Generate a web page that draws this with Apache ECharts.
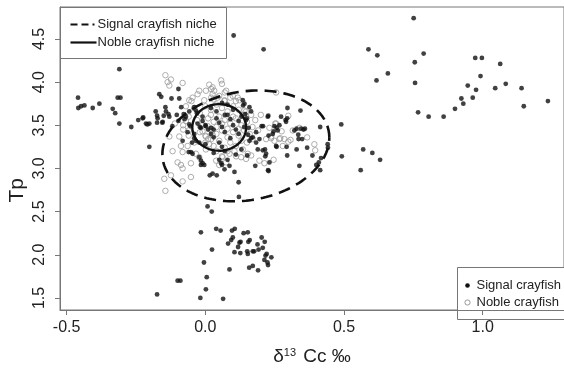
<!DOCTYPE html>
<html><head><meta charset="utf-8">
<script src="https://cdn.jsdelivr.net/npm/echarts@6/dist/echarts.min.js"></script>
<style>html,body{margin:0;padding:0;background:#fff}#c{width:564px;height:371px}</style>
</head><body><div id="c"></div>
<script>
// ---- data ----
const xTicks = [-0.5, 0.0, 0.5, 1.0];
const yTicks = [1.5, 2.0, 2.5, 3.0, 3.5, 4.0, 4.5];
const legendNiche = ['Signal crayfish niche', 'Noble crayfish niche'];
const legendPoints = ['Signal crayfish', 'Noble crayfish'];

const signalPoints = [
 [0.751,4.74],[0.588,4.38],[0.620,4.31],[0.787,4.33],[0.755,4.23],[0.658,4.10],[0.617,4.02],[0.756,3.99],[0.973,4.28],[0.997,4.28],[1.063,4.21],[0.992,4.07],[0.946,3.96],[0.976,3.91],[1.083,3.98],[1.045,3.93],[1.140,3.93],[0.923,3.81],[0.930,3.75],[0.964,3.82],[0.900,3.69],[0.859,3.60],[0.805,3.60],[0.767,3.65],[1.148,3.72],[1.235,3.78],[0.490,3.51],[0.569,3.22],[0.602,3.18],[0.630,3.10],[0.492,3.14],[0.560,2.98],[0.102,4.54],[0.210,4.38],
 [-0.310,4.15],[-0.459,3.82],[-0.458,3.70],[-0.448,3.72],[-0.436,3.73],[-0.406,3.70],[-0.382,3.75],[-0.316,3.82],[-0.306,3.82],[-0.334,3.69],[-0.325,3.64],[-0.310,3.52],[-0.267,3.48],[-0.242,3.56],[-0.224,3.59],[-0.209,3.51],[-0.179,3.66],[-0.174,3.61],[-0.174,3.53],[-0.166,3.86],[-0.202,3.25],
 [-0.097,3.92],[-0.159,3.83],[-0.122,3.81],[-0.144,3.71],[-0.142,3.66],[-0.133,3.63],[-0.130,3.60],[-0.150,3.61],[-0.155,3.53],[-0.094,3.81],[-0.087,3.71],[-0.078,3.63],[-0.103,3.62],[-0.097,3.55],[-0.075,3.57],[-0.119,3.49],[-0.064,3.42],[-0.054,3.49],[-0.048,3.30],[-0.060,3.19],[-0.022,3.13],[-0.016,3.04],[0.016,2.92],[0.041,2.92],[0.120,2.84],[-0.226,3.58],[-0.202,3.52],[-0.172,3.58],[-0.154,3.54],[-0.058,3.66],[-0.040,3.71],[-0.034,3.67],[-0.070,3.60],[-0.214,3.52],
 [0.151,3.15],[0.183,3.30],[0.195,3.34],[0.215,3.22],[0.226,2.98],[0.231,3.07],[0.154,3.39],[0.171,3.36],[0.136,3.73],[0.144,3.63],[0.227,3.61],[0.208,3.49],[0.296,3.70],[0.343,3.67],[0.295,3.58],[0.289,3.56],[0.257,3.47],[0.246,3.43],[0.243,3.40],[0.321,3.44],[0.329,3.46],[0.345,3.46],[0.354,3.45],[0.359,3.46],[0.335,3.39],[0.336,3.34],[0.349,3.34],[0.414,3.48],[0.257,3.25],[0.293,3.25],[0.329,3.22],[0.367,3.24],[0.441,3.28],[0.442,3.24],[0.295,3.15],[0.386,3.15],[0.417,3.12],[0.409,3.07],[0.400,3.04],[0.339,3.03],[0.414,2.98],
 [0.203,3.49],[0.261,3.44],[0.267,3.50],[0.228,3.38],[0.183,3.42],[0.165,3.35],[0.255,3.26],[0.189,3.22],[0.207,3.21],[0.219,3.17],[0.216,3.14],[0.180,3.03],[0.228,2.97],[0.087,3.03],[0.105,2.96],[0.057,3.06],[0.069,2.99],[0.026,2.94],[0.159,3.32],[0.156,3.47],
 [0.135,3.79],[0.141,3.75],[0.159,3.71],[0.165,3.66],[0.147,3.56],[0.225,3.60],[0.273,3.60],[0.291,3.54],[0.249,3.49],
 [-0.082,3.32],[-0.052,3.19],[-0.046,3.17],[-0.016,3.09],[-0.010,3.06],[-0.004,3.04],[-0.058,3.51],[-0.028,3.52],[-0.016,3.47],[0.002,3.49],[0.021,3.47],[-0.040,3.35],[-0.034,3.32],[-0.022,3.30],
 [0.121,2.67],[0.008,2.56],[0.023,2.50],[-0.016,2.26],[0.039,2.30],[0.055,2.28],[0.096,2.28],[0.106,2.30],[0.138,2.25],[0.153,2.26],[0.099,2.20],[0.093,2.17],[0.082,2.13],[0.123,2.14],[0.127,2.15],[0.160,2.17],[0.155,2.15],[0.203,2.20],[0.214,2.15],[0.188,2.12],[0.118,2.09],[0.105,2.03],[0.126,2.02],[0.151,2.04],[0.153,2.01],[0.171,2.04],[0.176,2.04],[0.192,2.06],[0.207,2.08],[0.221,2.01],[0.217,1.99],[0.238,1.97],[0.213,1.94],[0.224,1.91],[0.226,1.88],[0.024,2.06],[-0.005,1.91],[0.158,1.85],[0.171,1.87],[0.190,1.82],[0.087,1.83],[0.005,1.74],[0.002,1.60],[-0.018,1.50],[0.064,1.49],[-0.100,1.70],[-0.090,1.70],[-0.174,1.54],
 [-0.01,3.60],[-0.01,3.55],[0.00,3.50],[0.01,3.45],[0.02,3.40],[0.03,3.36],[0.04,3.58],[0.05,3.53],[0.06,3.48],[0.07,3.42],[0.08,3.62],[0.09,3.57],[0.10,3.50],[0.11,3.45],[0.12,3.55],[0.13,3.60],[0.05,3.30],[0.06,3.25],[0.07,3.20],[0.09,3.35],[0.02,3.70],[0.04,3.66],[0.06,3.76],[0.08,3.74],[0.10,3.68],[-0.03,3.64],[-0.04,3.40],[0.00,3.28],[0.03,3.18],[0.05,3.10],[0.06,3.04],[0.08,3.10],[0.11,3.16],[0.13,3.22],[0.14,3.48],[0.15,3.58],[0.12,3.40],[0.03,3.45],[-0.02,3.48],[0.07,3.62]
];

const noblePoints = [
 [-0.130,3.37],[-0.094,3.37],[-0.118,3.20],[-0.082,3.19],[-0.100,3.07],[-0.088,3.04],[-0.082,3.00],[-0.052,3.06],[-0.148,2.88],[-0.124,2.92],[-0.082,2.85],[-0.052,2.90],[-0.144,2.74],[-0.088,3.26],[-0.064,3.26],[-0.034,3.17],[-0.022,3.13],[0.002,3.22],[0.014,3.28],[0.021,3.34],[0.026,3.39],[-0.010,3.43],[0.002,3.37],[0.008,3.49],
 [-0.144,4.08],[-0.136,4.00],[-0.124,4.03],[-0.130,3.96],[-0.082,3.99],[-0.022,3.90],[0.014,3.97],[0.026,3.94],[-0.058,3.79],[-0.046,3.82],[-0.028,3.86],[0.002,3.90],[0.026,3.86],[-0.004,3.79],
 [0.057,4.02],[0.060,3.98],[0.021,3.92],[0.032,3.90],[0.075,3.90],[0.099,3.84],[0.117,3.82],[0.123,3.79],[0.141,3.67],[0.147,3.66],[0.165,3.62],[0.135,3.62],[0.255,3.88],[0.255,3.52],[0.021,3.82],[0.044,3.82],[0.069,3.79],
 [0.231,3.47],[0.237,3.35],[0.219,3.34],[0.249,3.32],[0.267,3.34],[0.135,3.22],[0.153,3.17],[0.165,3.15],[0.129,3.13],[0.147,3.11],[0.105,3.20],[0.087,3.17],[0.111,3.14],[0.062,3.13],[0.039,3.09],[0.050,3.04],[0.075,3.07],[0.195,3.09],[0.213,3.06],[0.279,3.26],
 [0.299,3.61],[0.252,3.52],[0.275,3.43],[0.315,3.44],[0.339,3.47],[0.270,3.35],[0.285,3.34],[0.299,3.31],[0.307,3.33],[0.367,3.36],[0.393,3.28],[0.396,3.21],[0.246,3.10],[0.237,3.37],
 [-0.08,3.45],[-0.07,3.55],[-0.11,3.52],[-0.06,3.38],
 [-0.04,3.70],[-0.02,3.64],[0.00,3.72],[0.02,3.68],[0.04,3.74],[0.06,3.70],[0.08,3.66],[0.10,3.72],[0.12,3.68],[0.14,3.62],
 [-0.03,3.56],[-0.01,3.50],[0.01,3.58],[0.03,3.54],[0.05,3.60],[0.07,3.56],[0.09,3.52],[0.11,3.58],[0.13,3.50],[0.15,3.54],
 [-0.02,3.42],[0.00,3.38],[0.02,3.46],[0.04,3.40],[0.06,3.44],[0.08,3.36],[0.10,3.42],[0.12,3.38],[0.14,3.44],[0.16,3.40],
 [0.00,3.30],[0.03,3.26],[0.05,3.32],[0.07,3.24],[0.09,3.30],[0.11,3.26],[0.13,3.32],[0.04,3.20],[0.06,3.14],[0.08,3.20],
 [0.03,3.80],[0.05,3.84],[0.07,3.78],[0.09,3.82],[0.11,3.78],[-0.05,3.78],[-0.07,3.72],[-0.06,3.60],[-0.08,3.50],[-0.06,3.44],
 [0.17,3.48],[0.18,3.56],[0.19,3.44],[0.17,3.34],[0.20,3.62],[0.02,3.62],[0.06,3.52],[0.08,3.46],[0.04,3.48],[0.10,3.60],
 [0.01,3.34],[0.12,3.46],[0.15,3.30],[-0.04,3.30],[0.07,3.88]
];

// niche ellipses: [centerX, centerY, radiusX, radiusY, phase]
const signalNiche = [0.146, 3.261, 0.301, 0.642, 0.15];
const nobleNiche  = [0.050, 3.475, 0.097, 0.270, 0.0];

function ellipsePath(p){
  const out = [];
  const n = 180;
  for (let i = 0; i <= n; i++){
    const t = 2*Math.PI*i/n;
    out.push([p[0] + p[2]*Math.cos(t), p[1] + p[3]*Math.sin(t + p[4])]);
  }
  return out;
}

const chart = echarts.init(document.getElementById('c'), null, {renderer:'canvas'});
const font = 'Liberation Sans, Arial, sans-serif';
chart.setOption({
  animation:false,
  backgroundColor:'#fff',
  grid:{left:60, top:7, right:-1, bottom:52, show:true, borderColor:'#777', borderWidth:1, containLabel:false},
  xAxis:{
    type:'value', min:-0.524, max:1.293,
    splitLine:{show:false},
    axisLine:{show:true, onZero:false, lineStyle:{color:'#777', width:1}},
    axisTick:{show:true, customValues:xTicks, length:5, lineStyle:{color:'#777'}},
    axisLabel:{customValues:xTicks, fontFamily:font, fontSize:16, color:'#222', margin:10,
      formatter:v=>v.toFixed(1)},
    name:'{d|δ}{s|13}{d| Cc ‰}', nameLocation:'middle', nameGap:37,
    nameTextStyle:{rich:{d:{fontFamily:font, fontSize:19, color:'#222'}, s:{fontFamily:font, fontSize:11, color:'#222', verticalAlign:'top', padding:[0,2,8,0]}}}
  },
  yAxis:{
    type:'value', min:1.36, max:4.87,
    splitLine:{show:false},
    axisLine:{show:true, onZero:false, lineStyle:{color:'#777', width:1}},
    axisTick:{show:true, customValues:yTicks, length:5, lineStyle:{color:'#777'}},
    axisLabel:{customValues:yTicks, fontFamily:font, fontSize:16, color:'#222', margin:12, rotate:90,
      formatter:v=>v.toFixed(1)}
  },
  graphic:[
    {type:'text', left:7, top:178, rotation:Math.PI/2, style:{text:'Tp', font:'21px '+font, fill:'#222'}, originX:0, originY:0},
    {type:'group', left:60, top:7, children:[
      {type:'rect', shape:{x:0, y:0, width:166, height:51}, style:{fill:'#fff', stroke:'#777', lineWidth:1}},
      {type:'line', shape:{x1:10, y1:17, x2:34, y2:17}, style:{stroke:'#111', lineWidth:2.2, lineDash:[7,4]}},
      {type:'line', shape:{x1:10, y1:35, x2:36, y2:35}, style:{stroke:'#111', lineWidth:2.2}},
      {type:'text', x:37, y:17, style:{text:legendNiche[0], font:'13px '+font, fill:'#222', verticalAlign:'middle'}},
      {type:'text', x:37, y:35, style:{text:legendNiche[1], font:'13px '+font, fill:'#222', verticalAlign:'middle'}}
    ]},
    {type:'group', left:457, top:267, children:[
      {type:'rect', shape:{x:0, y:0, width:110, height:52}, style:{fill:'#fff', stroke:'#777', lineWidth:1}},
      {type:'circle', shape:{cx:10, cy:18, r:2.3}, style:{fill:'#111'}},
      {type:'circle', shape:{cx:10, cy:35, r:2.6}, style:{fill:'none', stroke:'#999', lineWidth:1}},
      {type:'text', x:19, y:18, style:{text:legendPoints[0], font:'13px '+font, fill:'#222', verticalAlign:'middle'}},
      {type:'text', x:19, y:35, style:{text:legendPoints[1], font:'13px '+font, fill:'#222', verticalAlign:'middle'}}
    ]}
  ],
  series:[
    {name:legendPoints[1], type:'scatter', data:noblePoints, symbol:'circle', symbolSize:5.5,
      itemStyle:{color:'rgba(255,255,255,0)', borderColor:'#9a9a9a', borderWidth:1}},
    {name:legendPoints[0], type:'scatter', data:signalPoints, symbol:'circle', symbolSize:4.8,
      itemStyle:{color:'#111'}},
    {name:legendNiche[0], type:'line', data:ellipsePath(signalNiche), showSymbol:false, symbol:'none',
      lineStyle:{color:'#111', width:2.6, type:[12,7]}},
    {name:legendNiche[1], type:'line', data:ellipsePath(nobleNiche), showSymbol:false, symbol:'none',
      lineStyle:{color:'#111', width:2.4}}
  ]
});
</script></body></html>
